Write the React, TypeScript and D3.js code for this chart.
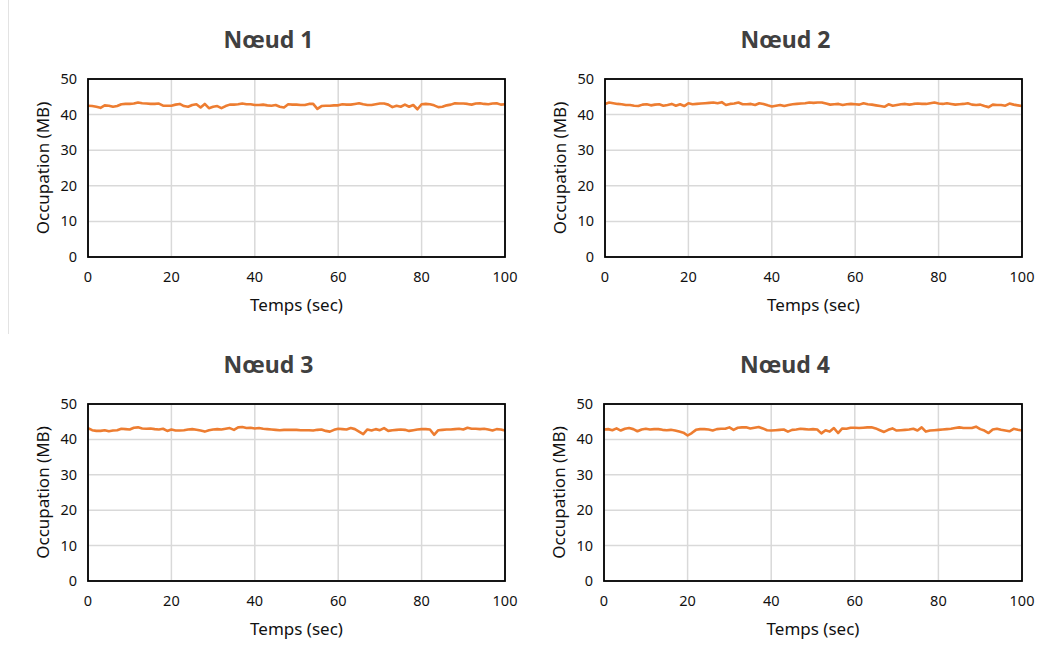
import React from "react";
import * as d3 from "d3";

const titles = ["Nœud 1", "Nœud 2", "Nœud 3", "Nœud 4"];
const xTicks = [0, 20, 40, 60, 80, 100];
const yTicks = [0, 10, 20, 30, 40, 50];
const xLabel = "Temps (sec)";
const yLabel = "Occupation (MB)";

const node1 = [
  42.5, 42.4, 42.2, 41.9, 42.6, 42.5, 42.2, 42.4, 42.9, 43.0,
  43.0, 43.1, 43.4, 43.2, 43.1, 43.0, 43.0, 43.1, 42.5, 42.5,
  42.5, 42.8, 43.0, 42.4, 42.2, 42.7, 42.9, 42.0, 43.0, 41.8,
  42.2, 42.4, 41.8, 42.4, 42.8, 42.8, 42.9, 43.1, 42.9, 42.9,
  42.7, 42.7, 42.8, 42.6, 42.5, 42.7, 42.2, 42.0, 42.9, 42.8,
  42.8, 42.7, 42.7, 43.0, 43.0, 41.6, 42.4, 42.5, 42.5, 42.6,
  42.6, 42.9, 42.8, 42.8, 43.0, 43.2, 42.9, 42.7, 42.7, 42.9,
  43.1, 43.1, 42.8, 42.1, 42.5, 42.2, 42.8, 42.2, 42.7, 41.5,
  42.9, 43.0, 42.9, 42.6, 42.1, 42.2, 42.6, 42.8, 43.2, 43.1,
  43.1, 43.0, 42.8, 43.1, 43.2, 43.0, 42.9, 43.1, 43.2, 42.8, 42.9,
];
const node2 = [
  43.0, 43.4, 43.2, 43.0, 42.9, 42.7, 42.7, 42.5, 42.4, 42.8,
  42.9, 42.6, 42.8, 42.9, 42.5, 42.7, 43.0, 42.5, 42.9, 42.4,
  43.2, 42.9, 43.0, 43.1, 43.2, 43.3, 43.4, 43.2, 43.5, 42.7,
  43.0, 43.1, 43.4, 42.9, 42.9, 43.0, 42.7, 43.2, 43.0, 42.6,
  42.3, 42.5, 42.7, 42.4, 42.7, 42.9, 43.0, 43.1, 43.2, 43.4,
  43.3, 43.4, 43.4, 43.1, 42.8, 42.9, 43.0, 42.7, 42.9, 43.0,
  42.9, 42.8, 43.2, 42.9, 42.8, 42.6, 42.4, 42.2, 42.9, 42.5,
  42.7, 42.9, 43.0, 42.8, 43.0, 43.1, 43.0, 43.0, 43.2, 43.4,
  43.1, 43.0, 43.2, 43.0, 42.8, 42.9, 43.0, 43.2, 42.8, 42.7,
  42.8, 42.4, 42.1, 42.8, 42.7, 42.7, 42.5, 43.1, 42.8, 42.6, 42.4,
];
const node3 = [
  43.2, 42.6, 42.4, 42.4, 42.6, 42.3, 42.5, 42.6, 43.0, 42.9,
  42.8, 43.3, 43.4, 43.1, 43.0, 43.1, 42.9, 42.8, 43.0, 42.4,
  42.8, 42.5, 42.5, 42.6, 42.8, 42.9, 42.7, 42.5, 42.2, 42.6,
  42.8, 42.9, 42.8, 43.0, 43.2, 42.7, 43.4, 43.5, 43.2, 43.3,
  43.1, 43.2, 43.0, 42.9, 42.8, 42.7, 42.6, 42.7, 42.7, 42.7,
  42.7, 42.6, 42.6, 42.6, 42.5, 42.7, 42.8, 42.4, 42.2, 42.7,
  43.0, 42.9, 42.8, 43.2, 42.9, 42.2, 41.5, 42.8, 42.5, 42.9,
  42.6, 43.2, 42.4, 42.6, 42.7, 42.8, 42.7, 42.4, 42.6, 42.8,
  42.9, 42.9, 42.8, 41.3, 42.6, 42.7, 42.8, 42.8, 42.9, 43.0,
  42.8, 43.3, 43.0, 43.0, 42.9, 43.0, 42.8, 42.5, 42.9, 42.8, 42.5,
];
const node4 = [
  42.8, 42.9, 42.6, 43.1, 42.5, 43.0, 43.2, 42.9, 42.3, 42.8,
  43.0, 42.8, 42.9, 42.9, 42.7, 42.6, 42.7, 42.5, 42.2, 41.9,
  41.1, 41.8, 42.7, 42.9, 42.9, 42.8, 42.5, 42.9, 43.0, 43.0,
  43.4, 42.7, 43.3, 43.4, 43.4, 43.1, 43.3, 43.5, 43.1, 42.6,
  42.5, 42.6, 42.7, 42.8, 42.2, 42.7, 42.8, 43.0, 42.9, 42.8,
  42.9, 42.8, 41.7, 42.6, 42.2, 43.2, 41.8, 43.1, 43.0, 43.3,
  43.3, 43.2, 43.3, 43.4, 43.4, 43.1, 42.6, 42.1, 42.7, 43.1,
  42.5, 42.6, 42.7, 42.8, 43.0, 42.5, 43.4, 42.2, 42.5, 42.6,
  42.7, 42.8, 42.9, 43.0, 43.2, 43.4, 43.2, 43.2, 43.2, 43.6,
  42.9, 42.5, 41.8, 42.8, 43.0, 42.7, 42.5, 42.3, 43.0, 42.7, 42.5,
];

const seriesList = [node1, node2, node3, node4];

const FONT = "'Noto Sans', 'DejaVu Sans', sans-serif";

type PanelProps = {
  title: string;
  data: number[];
  x0: number;
  x1: number;
  y0: number;
  y1: number;
};

function Panel({ title, data, x0, x1, y0, y1 }: PanelProps) {
  const x = d3.scaleLinear().domain([0, 100]).range([x0, x1]);
  const y = d3.scaleLinear().domain([0, 50]).range([y1, y0]);
  const line = d3
    .line<number>()
    .x((_, i) => x(i))
    .y((d) => y(d));
  const cx = (x0 + x1) / 2;
  const cy = (y0 + y1) / 2;
  return (
    <g>
      <text
        x={cx - 28}
        y={y0 - 31}
        textAnchor="middle"
        fontFamily={FONT}
        fontWeight="bold"
        fontSize={23}
        fill="#404040"
      >
        {title}
      </text>
      {yTicks.map((t) => (
        <line key={"gy" + t} x1={x0} x2={x1} y1={y(t)} y2={y(t)} stroke="#d9d9d9" strokeWidth={1.5} />
      ))}
      {xTicks.map((t) => (
        <line key={"gx" + t} x1={x(t)} x2={x(t)} y1={y0} y2={y1} stroke="#d9d9d9" strokeWidth={1.5} />
      ))}
      <path d={line(data) || ""} fill="none" stroke="#ED7D31" strokeWidth={2.6} strokeLinejoin="round" />
      <rect x={x0} y={y0} width={x1 - x0} height={y1 - y0} fill="none" stroke="#000" strokeWidth={1.8} />
      {yTicks.map((t) => (
        <text
          key={"ly" + t}
          x={x0 - 11}
          y={y(t)}
          dy="0.35em"
          textAnchor="end"
          fontFamily={FONT}
          fontSize={14.5}
          fill="#111"
        >
          {t}
        </text>
      ))}
      {xTicks.map((t) => (
        <text
          key={"lx" + t}
          x={x(t)}
          y={y1 + 25}
          textAnchor="middle"
          fontFamily={FONT}
          fontSize={14.5}
          fill="#111"
        >
          {t}
        </text>
      ))}
      <text
        x={cx}
        y={y1 + 54}
        textAnchor="middle"
        fontFamily={FONT}
        fontSize={17}
        fill="#111"
      >
        {xLabel}
      </text>
      <text
        transform={`translate(${x0 - 39},${cy}) rotate(-90)`}
        textAnchor="middle"
        fontFamily={FONT}
        fontSize={17}
        fill="#111"
      >
        {yLabel}
      </text>
    </g>
  );
}

const layout = [
  { x0: 88, x1: 505, y0: 79, y1: 257 },
  { x0: 605, x1: 1022, y0: 79, y1: 257 },
  { x0: 88, x1: 505, y0: 404, y1: 581 },
  { x0: 604, x1: 1022, y0: 404, y1: 581 },
];

export default function App() {
  return (
    <svg
      width={1038}
      height={659}
      style={{ position: "absolute", left: 0, top: 0, background: "#fff" }}
    >
      <rect x={0} y={0} width={1038} height={659} fill="#fff" />
      <line x1={8.5} x2={8.5} y1={0} y2={334} stroke="#e3e3e3" strokeWidth={1} />
      {layout.map((l, i) => (
        <Panel key={i} title={titles[i]} data={seriesList[i]} {...l} />
      ))}
    </svg>
  );
}
